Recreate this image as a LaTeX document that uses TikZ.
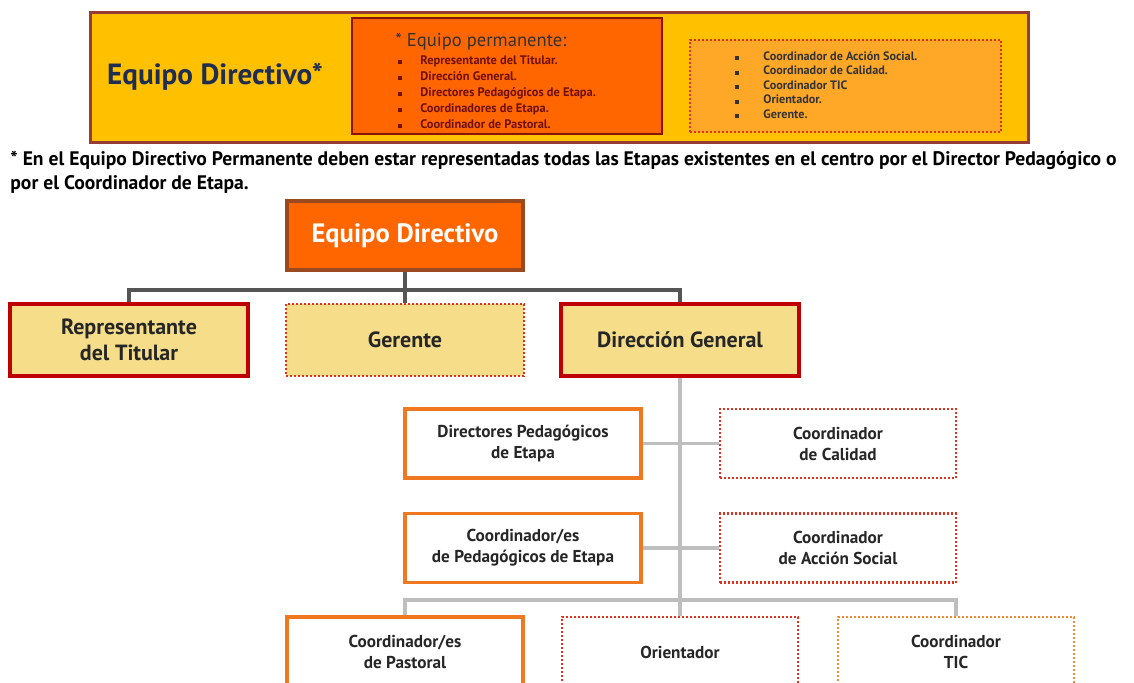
\documentclass[tikz,border=0pt]{standalone}
\usepackage{fontspec}
\setmainfont{PT Sans}
\usetikzlibrary{positioning}
\definecolor{gold}{RGB}{255,192,0}
\definecolor{bannerline}{RGB}{150,60,50}
\definecolor{permfill}{RGB}{255,102,0}
\definecolor{permline}{RGB}{139,20,10}
\definecolor{restfill}{RGB}{255,168,40}
\definecolor{navy}{RGB}{31,45,80}
\definecolor{brownline}{RGB}{155,74,31}
\definecolor{paleyellow}{RGB}{245,221,138}
\definecolor{redline}{RGB}{192,0,0}
\definecolor{orangeline}{RGB}{240,120,32}
\definecolor{dotred}{RGB}{224,48,30}
\definecolor{dotorange}{RGB}{240,138,48}
\definecolor{darkgray}{RGB}{85,85,85}
\definecolor{lightgray}{RGB}{190,190,190}
\newcommand{\blt}{\rule{2pt}{2pt}\hspace{9pt}}

\begin{document}
\begin{tikzpicture}[x=0.5pt,y=-0.5pt]
  \tikzstyle{box}=[rectangle, minimum width=118pt, minimum height=34.5pt, align=center, font=\bfseries\fontsize{8.6}{10.5}\selectfont, text=black!85]
  \tikzstyle{titular}=[box, minimum width=119pt, minimum height=36pt, fill=paleyellow, draw=redline, line width=2pt, font=\bfseries\fontsize{11}{13}\selectfont]
  \tikzstyle{apoyo}=[titular, draw=dotred, line width=1.3pt, dash pattern=on 1pt off 1pt]
  \tikzstyle{etapa}=[box, fill=white, draw=orangeline, line width=1.6pt]
  \tikzstyle{coord}=[box, fill=white, draw=dotred, line width=1.3pt, dash pattern=on 1pt off 1pt]
  \tikzstyle{darklink}=[draw=darkgray, line width=2pt]
  \tikzstyle{lightlink}=[draw=lightgray, line width=1.6pt]
  \tikzstyle{listtext}=[anchor=north west, inner sep=0pt, align=left]

  \clip (0,0) rectangle (1134,682);
  \fill[white] (0,0) rectangle (1134,682);

  \node[rectangle, minimum width=469pt, minimum height=65pt, fill=gold, draw=bannerline, line width=1.5pt] (banner) at (559,77) {};
  \node[text=navy, font=\bfseries\fontsize{14.6}{16}\selectfont] (bannertitle) at (215,77) {Equipo Directivo*};
  \node[rectangle, minimum width=155pt, minimum height=58pt, fill=permfill, draw=permline, line width=1.2pt] (perm) at (507,76) {};
  \node[rectangle, minimum width=155.5pt, minimum height=46pt, fill=restfill, draw=dotred, line width=1.2pt, dash pattern=on 1pt off 1pt] (rest) at (845.5,86) {};
  \node[anchor=west, inner sep=0pt, text=black!80, font=\fontsize{9.3}{10}\selectfont] (permtitle) at (395,42) {* Equipo permanente:};
  \node[listtext, text=permline!80!black, font=\bfseries\fontsize{6.2}{8}\selectfont] (permlist) at (398,55) {\blt Representante del Titular.\\ \blt Dirección General.\\ \blt Directores Pedagógicos de Etapa.\\ \blt Coordinadores de Etapa.\\ \blt Coordinador de Pastoral.};
  \node[listtext, text=black!80, font=\bfseries\fontsize{6.1}{7.25}\selectfont] (restlist) at (735,51) {\blt\hspace{3pt}Coordinador de Acción Social.\\ \blt\hspace{3pt}Coordinador de Calidad.\\ \blt\hspace{3pt}Coordinador TIC\\ \blt\hspace{3pt}Orientador.\\ \blt\hspace{3pt}Gerente.};

  \node[anchor=north west, inner sep=0pt, align=left, text=black, font=\bfseries\fontsize{9.8}{12}\selectfont] (note) at (10,151) {* En el Equipo Directivo Permanente deben estar representadas todas las Etapas existentes en el centro por el Director Pedagógico o\\ por el Coordinador de Etapa.};

  \node[box, minimum width=118pt, minimum height=34.5pt, fill=permfill, draw=brownline, line width=2pt, text=white, font=\bfseries\fontsize{13.3}{15}\selectfont] (ed) at (405,235.5) {Equipo Directivo};
  \node[titular] (rep) at (129,340) {Representante\\ del Titular};
  \node[apoyo] (ger) at (405,340) {Gerente};
  \node[titular] (dg) at (680,340) {Dirección General};

  \node[etapa] (dped) at (523,443.5) {Directores Pedagógicos\\ de Etapa};
  \node[coord] (cal) at (838,443.5) {Coordinador\\ de Calidad};
  \node[etapa] (cped) at (523,548) {Coordinador/es\\ de Pedagógicos de Etapa};
  \node[coord] (acc) at (838,548) {Coordinador\\ de Acción Social};

  \node[etapa, minimum height=35pt] (past) at (405,652) {Coordinador/es\\ de Pastoral};
  \node[coord, minimum height=35pt] (ori) at (680,652) {Orientador};
  \node[coord, minimum height=35pt, draw=dotorange] (tic) at (956,652) {Coordinador\\ TIC};

  \coordinate (j1) at (405,290);
  \coordinate (j2) at (680,443.5);
  \coordinate (j3) at (680,548);
  \coordinate (j4) at (680,600);

  \draw[darklink] (ed.south) -- (j1);
  \draw[darklink] (j1) -- (ger.north);
  \draw[darklink] (j1) -| (rep.north);
  \draw[darklink] (j1) -| (dg.north);

  \draw[lightlink] (dg.south) -- (j4);
  \draw[lightlink] (dped.east) -- (j2) -- (cal.west);
  \draw[lightlink] (cped.east) -- (j3) -- (acc.west);
  \draw[lightlink] (j4) -| (past.north);
  \draw[lightlink] (j4) -- (ori.north);
  \draw[lightlink] (j4) -| (tic.north);
\end{tikzpicture}
\end{document}
